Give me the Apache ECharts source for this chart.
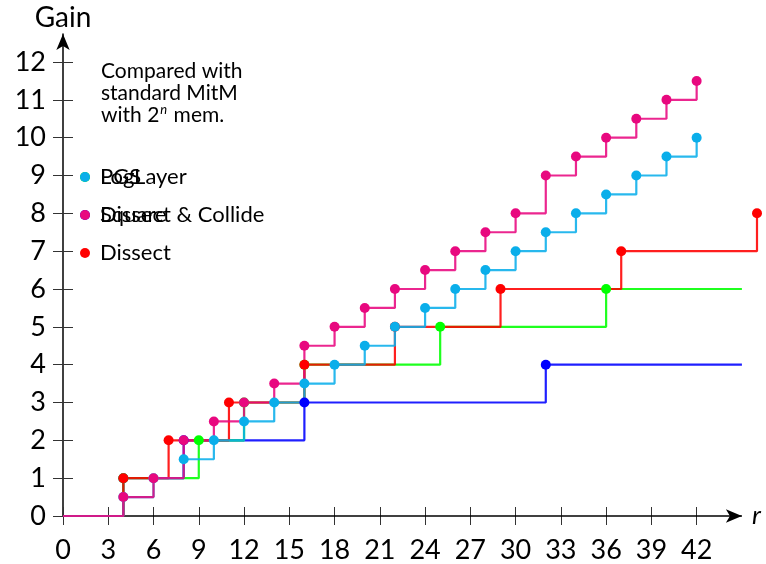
<!DOCTYPE html>
<html>
<head>
<meta charset="utf-8">
<script src="https://cdn.jsdelivr.net/npm/echarts@6/dist/echarts.min.js"></script>
<style>
  html, body { margin: 0; padding: 0; background: #fff; }
  #main { width: 766px; height: 564px; }
</style>
</head>
<body>
<div id="main"></div>
<script>
// rounds r and gains per method
const squareR = [0, 4, 8, 16, 32, 45];
const squareGain = [0, 1, 2, 3, 4, 4];
const pgsR = [0, 4, 9, 12, 16, 25, 36, 45];
const pgsGain = [0, 1, 2, 3, 4, 5, 6, 6];
const dissectR = [0, 4, 7, 11, 16, 22, 29, 37, 46];
const dissectGain = [0, 1, 2, 3, 4, 5, 6, 7, 8];
const logLayerR = [0, 4, 6, 8, 10, 12, 14, 16, 18, 20, 22, 24, 26, 28, 30, 32, 34, 36, 38, 40, 42];
const logLayerGain = [0, 0.5, 1, 1.5, 2, 2.5, 3, 3.5, 4, 4.5, 5, 5.5, 6, 6.5, 7, 7.5, 8, 8.5, 9, 9.5, 10];
const dcR = [0, 4, 6, 8, 10, 12, 14, 16, 18, 20, 22, 24, 26, 28, 30, 32, 34, 36, 38, 40, 42];
const dcGain = [0, 0.5, 1, 2, 2.5, 3, 3.5, 4.5, 5, 5.5, 6, 6.5, 7, 7.5, 8, 9, 9.5, 10, 10.5, 11, 11.5];

const xTicks = [0, 3, 6, 9, 12, 15, 18, 21, 24, 27, 30, 33, 36, 39, 42];
const yTicks = [0, 1, 2, 3, 4, 5, 6, 7, 8, 9, 10, 11, 12];
const xArrowEnd = 45;

const font = "Lato";

// first point (origin) and flat tails get no marker
function pts(rs, gs, tail) {
  return rs.map(function (r, i) {
    var item = { value: [r, gs[i]] };
    if (i === 0 || (tail && i === rs.length - 1)) item.symbol = "none";
    return item;
  });
}

function stepSeries(name, color, data) {
  return {
    name: name,
    type: "line",
    step: "end",
    data: data,
    clip: false,
    symbol: "circle",
    symbolSize: 10,
    showAllSymbol: true,
    itemStyle: { color: color },
    lineStyle: { color: color, width: 2.2, opacity: 0.88 },
    emphasis: { disabled: true },
    animation: false,
    z: 3,
  };
}

var series = [
  stepSeries("Square", "#0000ff", pts(squareR, squareGain, true)),
  stepSeries("PGS", "#00ff00", pts(pgsR, pgsGain, true)),
  stepSeries("Dissect", "#ff0000", pts(dissectR, dissectGain, false)),
  stepSeries("LogLayer", "#0aaeea", pts(logLayerR, logLayerGain, false)),
  stepSeries("Dissect & Collide", "#e8087f", pts(dcR, dcGain, false)),
];
// x axis line with arrow, shorter than the data range (red goes to 46)
series.push({
  type: "line",
  data: [],
  silent: true,
  z: 1,
  markLine: {
    silent: true,
    animation: false,
    z: 1,
    symbol: ["none", "arrow"],
    symbolSize: [10, 16],
    label: { show: false },
    lineStyle: { color: "#000", width: 1.5, type: "solid" },
    data: [[{ coord: [0, 0] }, { coord: [xArrowEnd, 0] }]],
  },
});

var legendBase = {
  orient: "vertical",
  left: 80,
  top: 166,
  padding: 0,
  icon: "circle",
  itemWidth: 10,
  itemHeight: 20,
  itemGap: 16,
  itemTextGap: 10,
  selectedMode: false,
  textStyle: { fontFamily: font, fontSize: 22, color: "#000", lineHeight: 22, padding: [0, 0, 0, 5] },
};

var myChart = echarts.init(document.getElementById("main"));
myChart.setOption({
  animation: false,
  grid: { left: 63, right: 9, top: 34, bottom: 47 },
  legend: [
    Object.assign({ data: ["PGS", "Square", "Dissect"] }, legendBase),
    Object.assign({ data: ["LogLayer", "Dissect & Collide"] }, legendBase),
  ],
  graphic: [
    {
      type: "text",
      left: 101,
      top: 60,
      style: {
        text: "Compared with\nstandard MitM\nwith 2{sup|n} mem.",
        fontFamily: font,
        fontSize: 21,
        lineHeight: 22,
        fill: "#000",
        rich: {
          sup: { fontFamily: font, fontSize: 13, fontStyle: "italic", padding: [0, 1, 10, 1] },
        },
      },
    },
  ],
  xAxis: [
    {
      type: "value",
      min: 0,
      max: 46,
      name: "r",
      nameGap: -5,
      nameTextStyle: { fontFamily: font, fontSize: 26, fontStyle: "italic", color: "#000" },
      axisLine: { show: false },
      axisTick: { show: true, length: 9, lineStyle: { color: "#333", width: 1 }, customValues: xTicks },
      axisLabel: { customValues: xTicks, margin: 21, fontFamily: font, fontSize: 27, color: "#000" },
      splitLine: { show: false },
    },
    {
      type: "value",
      min: 0,
      max: 46,
      position: "bottom",
      axisLine: { show: false },
      axisTick: { show: true, inside: true, length: 9, lineStyle: { color: "#333", width: 1 }, customValues: xTicks },
      axisLabel: { show: false },
      splitLine: { show: false },
    },
  ],
  yAxis: [
    {
      type: "value",
      min: 0,
      max: 12.74,
      name: "Gain",
      nameGap: 2,
      nameTextStyle: { fontFamily: font, fontSize: 28, color: "#000" },
      axisLine: { show: true, lineStyle: { color: "#000", width: 1.5 }, symbol: ["none", "arrow"], symbolSize: [10, 16] },
      axisTick: { show: true, length: 10, lineStyle: { color: "#333", width: 1 }, customValues: yTicks },
      axisLabel: { customValues: yTicks, margin: 17, fontFamily: font, fontSize: 27, color: "#000" },
      splitLine: { show: false },
    },
    {
      type: "value",
      min: 0,
      max: 12.74,
      position: "left",
      axisLine: { show: false },
      axisTick: { show: true, inside: true, length: 10, lineStyle: { color: "#333", width: 1 }, customValues: yTicks },
      axisLabel: { show: false },
      splitLine: { show: false },
    },
  ],
  series: series,
});
</script>
</body>
</html>
